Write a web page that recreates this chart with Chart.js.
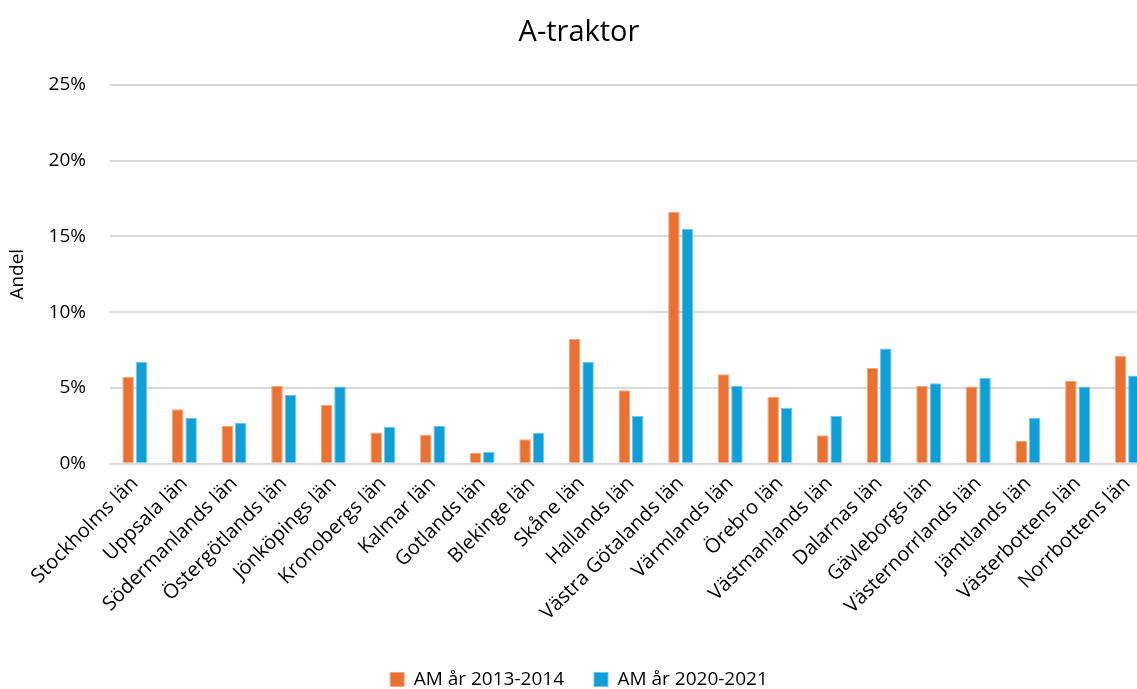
<!DOCTYPE html>
<html>
<head>
<meta charset="utf-8">
<script src="https://cdn.jsdelivr.net/npm/chart.js@4/dist/chart.umd.min.js"></script>
<style>
  html, body { margin: 0; padding: 0; background: #fff; overflow: hidden; }
  #wrap { width: 1160px; height: 689px; position: relative; }
</style>
</head>
<body>
<div id="wrap"><canvas id="traktorChart"></canvas></div>
<script>
// Län (kategorier)
const lanLabels = [
    'Stockholms län', 'Uppsala län', 'Södermanlands län', 'Östergötlands län',
    'Jönköpings län', 'Kronobergs län', 'Kalmar län', 'Gotlands län',
    'Blekinge län', 'Skåne län', 'Hallands län', 'Västra Götalands län',
    'Värmlands län', 'Örebro län', 'Västmanlands län', 'Dalarnas län',
    'Gävleborgs län', 'Västernorrlands län', 'Jämtlands län', 'Västerbottens län',
    'Norrbottens län'
];

// Andel i procent
const am2013 = [5.73, 3.6, 2.5, 5.13, 3.87, 2.06, 1.92, 0.73, 1.62, 8.22, 4.84, 16.6,
    5.9, 4.42, 1.88, 6.33, 5.15, 5.09, 1.5, 5.46, 7.1];
const am2020 = [6.72, 3.03, 2.7, 4.54, 5.09, 2.43, 2.5, 0.78, 2.02, 6.72, 3.14, 15.48,
    5.15, 3.69, 3.14, 7.6, 5.3, 5.66, 3.01, 5.09, 5.82];

const yTicks = [0, 5, 10, 15, 20, 25];

const fontFamily = '"Open Sans", "Noto Sans", sans-serif';
const ctx = document.getElementById('traktorChart').getContext('2d');

new Chart(ctx, {
    type: 'bar',
    data: {
        labels: lanLabels,
        datasets: [{
            label: 'AM år 2013-2014',
            data: am2013,
            backgroundColor: '#E97132',
            borderColor: '#F5A67C',
            borderWidth: 1
        }, {
            label: 'AM år 2020-2021',
            data: am2020,
            backgroundColor: '#0F9ED5',
            borderColor: '#6CC6EA',
            borderWidth: 1
        }]
    },
    options: {
        responsive: true,
        maintainAspectRatio: false,
        animation: false,
        layout: { padding: { left: 6, right: 8, top: 0, bottom: -10 } },
        datasets: {
            bar: { categoryPercentage: 0.54, barPercentage: 0.86 }
        },
        scales: {
            x: {
                grid: { display: false, drawTicks: false },
                border: { display: false },
                afterFit: (axis) => { axis.height = axis.height + 7; },
                ticks: {
                    color: '#000',
                    minRotation: 45,
                    maxRotation: 45,
                    autoSkip: false,
                    padding: 8,
                    font: { family: fontFamily, size: 20 }
                }
            },
            y: {
                min: 0,
                max: 25,
                afterBuildTicks: (axis) => {
                    axis.ticks = yTicks.map(v => ({ value: v }));
                },
                afterFit: (axis) => { axis.width = 104; },
                grid: { color: '#d9d9d9', lineWidth: 2, drawTicks: false },
                border: { display: false },
                ticks: {
                    color: '#000',
                    padding: 24,
                    font: { family: fontFamily, size: 19 },
                    callback: (v) => v + '%'
                },
                title: {
                    display: true,
                    text: 'Andel',
                    color: '#000',
                    font: { family: fontFamily, size: 19 },
                    padding: 0
                }
            }
        },
        plugins: {
            title: {
                display: true,
                text: 'A-traktor',
                color: '#000',
                font: { family: fontFamily, size: 29, weight: 'normal' },
                padding: { top: 15, bottom: 35 }
            },
            legend: {
                position: 'bottom',
                labels: {
                    color: '#000',
                    boxWidth: 14,
                    boxHeight: 14,
                    padding: 30,
                    font: { family: fontFamily, size: 19 }
                }
            },
            tooltip: { enabled: false }
        }
    }
});
</script>
</body>
</html>
